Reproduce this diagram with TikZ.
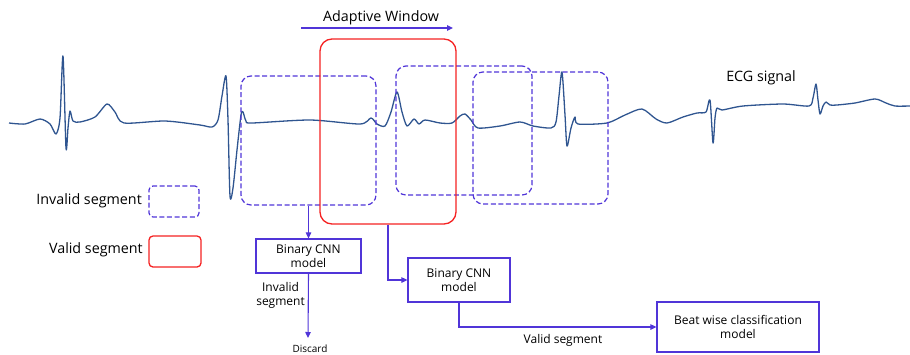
\documentclass[tikz,border=0pt]{standalone}
\usepackage{fontspec}
\setmainfont{Open Sans}
\usetikzlibrary{arrows.meta,calc}
\definecolor{ecg}{HTML}{2F5590}
\definecolor{vio}{HTML}{5035D8}
\definecolor{redb}{HTML}{F52222}
\begin{document}
\begin{tikzpicture}[x=1pt,y=-1pt,
  inv/.style={draw=vio,line width=1.2pt,dash pattern=on 5pt off 2.6pt,rounded corners=10pt,inner sep=0pt},
  val/.style={draw=redb,line width=1.3pt,rounded corners=12pt,inner sep=0pt},
  modelbox/.style={draw=vio,line width=1.2pt,inner sep=0pt,align=center,font=\fontsize{12}{14}\selectfont},
  conn/.style={draw=vio,line width=1.1pt},
  arr/.style={conn,-{Triangle[length=6pt,width=5.5pt]}},
  lbl/.style={font=\fontsize{12}{14}\selectfont,inner sep=0pt,align=center}
]
\useasboundingbox (0,0) rectangle (910,354);
% ECG signal
\draw[ecg,line width=1.3pt,line join=round] plot[smooth,tension=0.45] coordinates {
(9,123) (25,124) (40,119) (50,124) (56,134) (60,118) (63,56) (66,148) (68,128) (70,111) (73,121) (80,122) (95,117) (107,104) (115,112) (124,123) (165,121) (200,125) (212,127) (218,120) (222,96) (226,76) (228,120) (230,196) (233,188) (237,150) (241,115) (243,112) (246,121) (252,123) (310,120) (360,124) (371,118) (377,124) (385,126) (391,112) (397,92) (402,112) (407,126) (414,119) (419,124) (425,120) (440,123) (452,123) (460,116) (465,114) (471,120) (478,128) (500,126) (520,122) (533,126) (551,128) (556,122) (559,96) (562,72) (565,115) (567,146) (571,128) (575,117) (578,124) (607,123) (625,115) (642,109) (656,119) (667,123) (683,117) (697,113) (706,112) (710,100) (713,143) (715,118) (717,108) (722,110) (743,106) (783,104) (809,106) (813,98) (816,84) (818,100) (820,114) (823,106) (826,102) (830,105) (837,105) (855,103) (875,99) (886,103) (895,106) (910,106)};
% segment windows
\node[inv,minimum width=135pt,minimum height=129pt] (w1) at (308.5,140.5) {};
\node[inv,minimum width=136pt,minimum height=129pt] (w2) at (464,130.5) {};
\node[inv,minimum width=135pt,minimum height=132pt] (w3) at (540.5,138) {};
\node[val,minimum width=136pt,minimum height=185pt] (rv) at (388,131.5) {};
% adaptive window
\coordinate (aws) at (301,28);
\coordinate (awe) at (453,28);
\draw[arr] (aws) -- (awe);
\node[font=\fontsize{14.3}{17}\selectfont,inner sep=0pt] (awt) at (381,17.5) {Adaptive Window};
\node[font=\fontsize{14.3}{17}\selectfont,inner sep=0pt] (ecgt) at (761,78) {ECG signal};
% legend
\node[inv,rounded corners=4pt,minimum width=50pt,minimum height=31pt] (linv) at (174,201.5) {};
\node[font=\fontsize{14.3}{17}\selectfont,inner sep=0pt,anchor=east] (tinv) at (142,201) {Invalid segment};
\node[val,rounded corners=4pt,minimum width=52pt,minimum height=31pt] (lval) at (175,251.5) {};
\node[font=\fontsize{14.3}{17}\selectfont,inner sep=0pt,anchor=east] (tval) at (143,250) {Valid segment};
% models
\node[modelbox,minimum width=105pt,minimum height=34pt] (m1) at (308.5,256) {Binary CNN\\model};
\node[modelbox,minimum width=102pt,minimum height=44pt] (m2) at (459,280) {Binary CNN\\model};
\node[modelbox,minimum width=162pt,minimum height=50pt] (m3) at (738,327) {Beat wise classification\\model};
\node[font=\fontsize{10}{12}\selectfont,inner sep=0pt] (disc) at (310,349) {Discard};
\coordinate (dend) at (308,338);
\node[lbl,anchor=east] (tl1) at (305,295) {Invalid\\segment};
\node[lbl] (tl2) at (563,340) {Valid segment};
% connectors
\draw[arr] (w1.south -| m1.north) -- (m1.north);
\draw[arr] (m1.south) -- (dend);
\draw[arr] (rv.south) -- (rv.south |- m2.west) -- (m2.west);
\draw[arr] (m2.south) -- (m2.south |- m3.west) -- (m3.west);
\end{tikzpicture}
\end{document}
